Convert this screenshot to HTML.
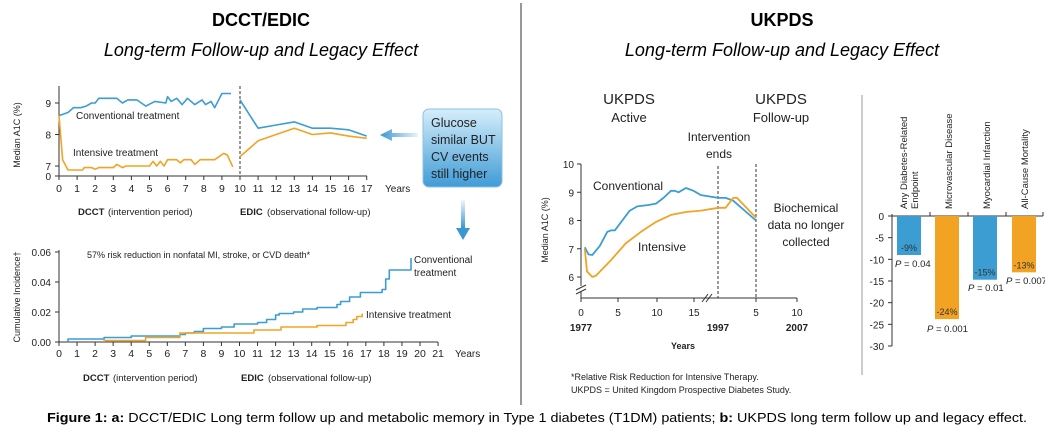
<!DOCTYPE html>
<html><head><meta charset="utf-8"><style>
html,body{margin:0;padding:0;background:#fff;}
svg{display:block;font-family:"Liberation Sans",Arial,sans-serif;}
</style></head><body>
<svg id="s" width="1045" height="434" viewBox="0 0 1045 434" xmlns="http://www.w3.org/2000/svg">
<defs>
<linearGradient id="bx" x1="0" y1="0" x2="0" y2="1"><stop offset="0" stop-color="#d6eefb"/><stop offset="1" stop-color="#3f9bd6"/></linearGradient>
<linearGradient id="al" x1="0" y1="0" x2="1" y2="0"><stop offset="0" stop-color="#3c96d3"/><stop offset="1" stop-color="#e8f4fc"/></linearGradient>
<linearGradient id="ad" x1="0" y1="0" x2="0" y2="1"><stop offset="0" stop-color="#eef7fd"/><stop offset="1" stop-color="#3c96d3"/></linearGradient>
</defs>
<line x1="521" y1="3" x2="521" y2="405" stroke="#777" stroke-width="1.5"/>
<text x="261" y="26" font-size="18" font-weight="bold" text-anchor="middle">DCCT/EDIC</text>
<text x="261" y="56" font-size="18" font-style="italic" text-anchor="middle">Long-term Follow-up and Legacy Effect</text>
<text x="782" y="26" font-size="18" font-weight="bold" text-anchor="middle">UKPDS</text>
<text x="782" y="56" font-size="18" font-style="italic" text-anchor="middle">Long-term Follow-up and Legacy Effect</text>
<g id="g"></g>
<text x="537" y="422" font-size="13" text-anchor="middle" textLength="980" lengthAdjust="spacingAndGlyphs"><tspan font-weight="bold">Figure 1: a:</tspan> DCCT/EDIC Long term follow up and metabolic memory in Type 1 diabetes (T1DM) patients; <tspan font-weight="bold">b:</tspan> UKPDS long term follow up and legacy effect.</text>
</svg>
<script>
var g=document.getElementById('g'),h='';
var B='#3b9dd2',O='#f2a324';
function T(x,y,t,o){o=o||{};h+='<text x="'+x+'" y="'+y+'" font-size="'+(o.s||10)+'" text-anchor="'+(o.a||'start')+'"'+(o.w?' font-weight="bold"':'')+(o.r?' transform="rotate(-90 '+x+' '+y+')"':'')+' fill="'+(o.c||'#222')+'">'+t+'</text>';}
function L(x1,y1,x2,y2,o){o=o||{};h+='<line x1="'+x1+'" y1="'+y1+'" x2="'+x2+'" y2="'+y2+'" stroke="'+(o.c||'#333')+'" stroke-width="'+(o.w||1)+'"'+(o.d?' stroke-dasharray="'+o.d+'"':'')+'/>';}
function P(pts,c,w){h+='<polyline fill="none" stroke="'+c+'" stroke-width="'+(w||1.6)+'" stroke-linejoin="round" points="'+pts.map(p=>p[0].toFixed(1)+','+p[1].toFixed(1)).join(' ')+'"/>';}
// top chart
function tx(t){return 59+18.1*t;}function ty(v){return v>=7?166-(v-7)*31.5:166+(7-v)*16;}
L(59,86,59,176);L(59,176,367,176);
[[9,'9'],[8,'8'],[7,'7']].forEach(a=>{L(55,ty(a[0]),59,ty(a[0]));T(51,ty(a[0])+4,a[1],{a:'end'});});
L(55,176,59,176);T(51,180,'0',{a:'end'});
for(var i=0;i<=17;i++){L(tx(i),176,tx(i),180);T(tx(i),192,i,{a:'middle',s:10.5});}
T(385,192,'Years',{s:10});
T(20,135,'Median A1C (%)',{r:1,a:'middle',s:9});
L(240,86,240,176,{d:'3,2'});
var c1=[[0,8.6],[0.5,8.7],[0.8,8.85],[1.2,8.85],[1.5,8.9],[1.8,9.0],[2,9.0],[2.2,9.15],[3.2,9.15],[3.5,9.0],[3.8,9.1],[4.3,9.1],[4.8,8.9],[5.3,9.05],[5.9,9.0],[6,9.2],[6.2,9.05],[6.5,9.15],[6.8,8.95],[7.1,9.15],[7.5,8.95],[7.9,9.1],[8.1,8.95],[8.4,9.05],[8.6,8.85],[9,9.3],[9.5,9.3]];
var c2=[[10,9.1],[11,8.2],[12,8.3],[13,8.4],[14,8.2],[15,8.2],[16,8.15],[17,7.95]];
var i1=[[0,8.6],[0.2,7.2],[0.5,6.75],[1.3,6.75],[1.4,6.9],[1.8,6.9],[2,6.8],[2.2,6.9],[3,6.9],[3.2,7.05],[3.5,6.9],[3.7,7.0],[5,7.0],[5.2,7.15],[5.4,7.0],[5.6,7.15],[5.8,7.0],[6,7.2],[6.5,7.2],[6.7,7.1],[6.9,7.2],[7.3,7.2],[7.5,7.05],[7.8,7.2],[8.6,7.2],[9.1,7.4],[9.3,7.35],[9.6,6.95]];
var i2=[[10,7.3],[11,7.8],[12,8.0],[13,8.2],[14,8.0],[15,8.05],[16,7.95],[17,7.88]];
[c1,c2].forEach(a=>P(a.map(p=>[tx(p[0]),ty(p[1])]),B));
[i1,i2].forEach(a=>P(a.map(p=>[tx(p[0]),ty(p[1])]),O));
T(76,119,'Conventional treatment',{s:10});T(73,156,'Intensive treatment',{s:10});
T(78,215,'DCCT',{s:9.5,w:1});T(108,215,'(intervention period)',{s:9.5});
T(240,215,'EDIC',{s:9.5,w:1});T(267,215,'(observational follow-up)',{s:9.5});
h+='<rect x="423" y="109" width="79" height="78" rx="6" fill="url(#bx)" stroke="#8fc0e0"/>';
['Glucose','similar BUT','CV events','still higher'].forEach((s,k)=>T(431,127+k*17,s,{s:12.5}));
h+='<polygon points="380,135 392,129 392,133 418,133 418,137 392,137 392,141" fill="url(#al)"/>';
h+='<rect x="461" y="200" width="4" height="28" fill="url(#ad)"/><polygon points="456,228 470,228 463,240" fill="#3c96d3"/>';
// bottom chart
function bx(t){return 59+18.05*t;}function by(v){return 342-v*1500;}
L(59,250,59,342);L(59,342,438,342);
[[0.06,'0.06'],[0.04,'0.04'],[0.02,'0.02'],[0,'0.00']].forEach(a=>{L(55,by(a[0]),59,by(a[0]));T(51,by(a[0])+4,a[1],{a:'end'});});
for(var i=0;i<=21;i++){L(bx(i),342,bx(i),346);T(bx(i),357,i,{a:'middle',s:10.5});}
T(455,357,'Years',{s:10});
T(20,297,'Cumulative Incidence\u2020',{r:1,a:'middle',s:9});
T(87,258,'57% risk reduction in nonfatal MI, stroke, or CVD death*',{s:9});
function step(a,c){var p=[];for(var k=0;k<a.length;k++){if(k>0)p.push([bx(a[k][0]),by(a[k-1][1])]);p.push([bx(a[k][0]),by(a[k][1])]);}P(p,c,1.6);}
step([[0.5,0],[0.5,0.002],[2.5,0.003],[4,0.004],[6.7,0.005],[7,0.006],[7.5,0.007],[8,0.009],[9,0.010],[9.7,0.012],[11,0.013],[11.5,0.015],[12,0.018],[12.2,0.019],[13,0.020],[13.5,0.022],[14.3,0.023],[15.4,0.025],[15.6,0.027],[16.1,0.030],[16.7,0.033],[17.9,0.035],[18.1,0.042],[18.3,0.048],[19.5,0.048],[19.5,0.056]],B);
step([[2.5,0],[2.5,0.001],[4.8,0.003],[6.7,0.006],[10.8,0.008],[12.3,0.010],[14.3,0.011],[15.9,0.013],[16.3,0.015],[16.5,0.017],[16.8,0.019]],O);
T(414,263,'Conventional',{s:10});T(414,276,'treatment',{s:10});T(366,318,'Intensive treatment',{s:10});
T(83,381,'DCCT',{s:9.5,w:1});T(113,381,'(intervention period)',{s:9.5});
T(241,381,'EDIC',{s:9.5,w:1});T(268,381,'(observational follow-up)',{s:9.5});
// UKPDS line chart
function ux(t){return t<=18.3?581+7.5*t:718+7.6*(t-18.3);}function uy(v){return 164+(10-v)*28.25;}
T(629,104,'UKPDS',{a:'middle',s:15});T(629,122,'Active',{a:'middle',s:13});
T(781,104,'UKPDS',{a:'middle',s:15});T(781,122,'Follow-up',{a:'middle',s:13});
T(719,141,'Intervention',{a:'middle',s:12});T(719,158,'ends',{a:'middle',s:12});
T(806,212,'Biochemical',{a:'middle',s:12});T(806,229,'data no longer',{a:'middle',s:12});T(806,246,'collected',{a:'middle',s:12});
L(581,164,581,286);L(576,290,586,285);L(576,294,586,289);L(581,292,581,298);
L(581,298,797,298);
[[10,'10'],[9,'9'],[8,'8'],[7,'7'],[6,'6']].forEach(a=>{L(577,uy(a[0]),581,uy(a[0]));T(574,uy(a[0])+4,a[1],{a:'end'});});
[[581,'0'],[618,'5'],[657,'10'],[694,'15'],[756,'5'],[797,'10']].forEach(a=>{L(a[0],298,a[0],302);T(a[0],316,a[1],{a:'middle'});});
L(702,302,708,294);L(706,302,712,294);
T(581,331,'1977',{a:'middle',w:1});T(718,331,'1997',{a:'middle',w:1});T(797,331,'2007',{a:'middle',w:1});
T(683,349,'Years',{a:'middle',s:9,w:1});
T(548,230,'Median A1C (%)',{r:1,a:'middle',s:9});
L(718,166,718,298,{d:'3,2'});L(756,164,756,298,{d:'3,2'});
var uc=[[0.5,7.05],[1,6.8],[1.5,6.78],[2.5,7.1],[3.5,7.6],[4,7.65],[4.5,7.65],[5.5,8.0],[6.5,8.35],[7.5,8.5],[9,8.55],[10,8.6],[11,8.8],[12,9.05],[12.5,9.05],[13,9.0],[14,9.15],[15,9.05],[16,8.9],[18.3,8.8],[19.3,8.8],[20.3,8.7],[23.3,8.0]];
var ui=[[0.5,7.0],[0.8,6.2],[1.5,6.0],[2,6.05],[4,6.6],[6,7.2],[8,7.6],[10,7.95],[12,8.2],[14,8.3],[16,8.35],[18.3,8.45],[19.3,8.45],[20.3,8.8],[20.8,8.8],[23.3,8.1]];
P(uc.map(p=>[ux(p[0]),uy(p[1])]),B,1.8);P(ui.map(p=>[ux(p[0]),uy(p[1])]),O,1.8);
T(593,190,'Conventional',{s:12});T(638,251,'Intensive',{s:12});
T(571,380,'*Relative Risk Reduction for Intensive Therapy.',{s:9});
T(571,393,'UKPDS = United Kingdom Prospective Diabetes Study.',{s:9});
// bar chart
L(862,95,862,375,{c:'#999'});
function vy(v){return 216-v*4.333;}
L(892,214,892,346);L(892,216,1043,216);
for(var v=0;v>=-30;v-=5){L(888,vy(v),892,vy(v));T(884,vy(v)+4,v,{a:'end'});}
[930,968,1006,1043].forEach(x=>L(x,212,x,216));
[[897,-9,B,'-9%',905,'P',0.04],[935,-23.8,O,'-24%',946,'P',0.001],[973,-14.7,B,'-15%',985,'P',0.01],[1012,-13,O,'-13%',1023,'P',0.007]].forEach(b=>{
 h+='<rect x="'+b[0]+'" y="216" width="24" height="'+(-b[1]*4.333)+'" fill="'+b[2]+'"/>';
 T(b[0]+12,vy(b[1])-4,b[3],{a:'middle',s:9,c:'#333'});
});
T(895,267,'<tspan font-style="italic">P</tspan> = 0.04',{s:9.5});
T(927,332,'<tspan font-style="italic">P</tspan> = 0.001',{s:9.5});
T(968,291,'<tspan font-style="italic">P</tspan> = 0.01',{s:9.5});
T(1006,284,'<tspan font-style="italic">P</tspan> = 0.007',{s:9.5});
T(907,209,'Any Diabetes-Related',{r:1,s:9.5});T(918,209,'Endpoint',{r:1,s:9.5});
T(952,209,'Microvascular Disease',{r:1,s:9.5});
T(990,209,'Myocardial Infarction',{r:1,s:9.5});
T(1028,209,'All-Cause Mortality',{r:1,s:9.5});
g.innerHTML=h;
</script>
</body></html>
